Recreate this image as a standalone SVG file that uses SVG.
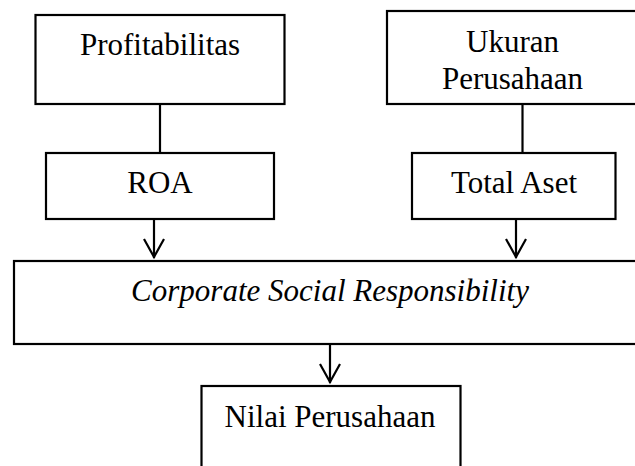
<svg xmlns="http://www.w3.org/2000/svg" width="635" height="466" viewBox="0 0 635 466">
<style>
.box{fill:#fff;stroke:#000;stroke-width:2.2}
.t{font-size:31px;fill:#000;text-anchor:middle}
.i{font-style:italic}
.c{fill:none;stroke:#000;stroke-width:2.2}
</style>
<rect width="635" height="466" fill="#fff"/>
<g font-family="Liberation Serif, Times New Roman, serif">
<g id="profitabilitas"><rect class="box" x="35.5" y="15" width="249" height="89"/><text class="t" x="160" y="55">Profitabilitas</text></g>
<g id="ukuran"><rect class="box" x="387" y="11" width="260" height="93"/><text class="t" x="512.5" y="52">Ukuran</text><text class="t" x="512.5" y="89">Perusahaan</text></g>
<g id="roa"><rect class="box" x="46" y="153" width="228" height="66"/><text class="t" x="160" y="192.5">ROA</text></g>
<g id="totalaset"><rect class="box" x="412" y="153" width="203.5" height="66"/><text class="t" x="514" y="192.5">Total Aset</text></g>
<g id="csr"><rect class="box" x="14" y="261" width="640" height="83"/><text class="t i" x="330" y="301">Corporate Social Responsibility</text></g>
<g id="nilai"><rect class="box" x="201.5" y="386" width="259" height="100"/><text class="t" x="330" y="426.5">Nilai Perusahaan</text></g>
</g>
<g id="connectors">
<line class="c" x1="160" y1="104" x2="160" y2="153"/>
<line class="c" x1="522.5" y1="104" x2="522.5" y2="153"/>
<line class="c" x1="154" y1="219" x2="154" y2="258"/>
<polyline class="c" points="144,239 154,257 164,239"/>
<line class="c" x1="516" y1="219" x2="516" y2="258"/>
<polyline class="c" points="506,239 516,257 526,239"/>
<line class="c" x1="330" y1="344" x2="330" y2="383"/>
<polyline class="c" points="320,364 330,382 340,364"/>
</g>
</svg>
